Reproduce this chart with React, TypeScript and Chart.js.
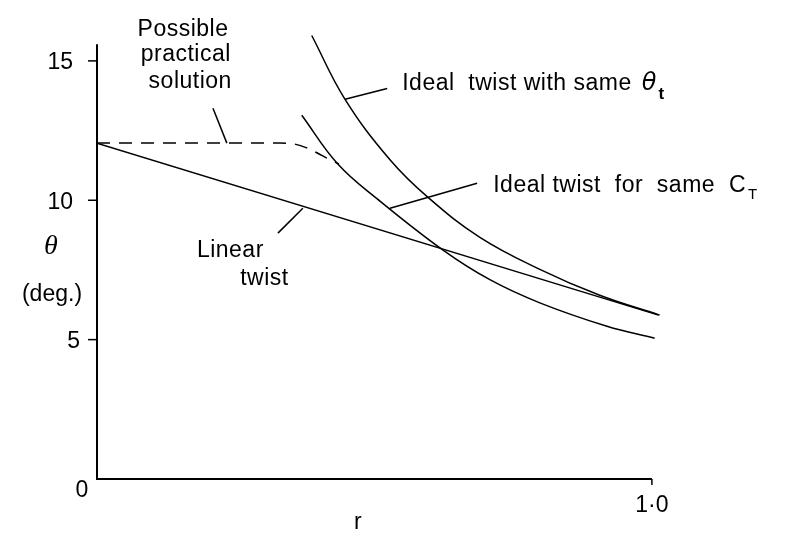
import React, { useEffect, useRef } from "react";
import { Chart, registerables } from "chart.js";

Chart.register(...registerables);

// ---- data (r, theta in degrees) ----
const rLinear = [0, 1.012];
const thetaLinear = [12.05, 5.88];

const rIdealSameTip = [0.387, 0.447, 0.528, 0.596, 0.69, 0.798, 0.906, 1.014];
const thetaIdealSameTip = [15.91, 13.62, 11.45, 10.11, 8.67, 7.52, 6.59, 5.88];

const rIdealSameCT = [0.369, 0.434, 0.505, 0.623, 0.708, 0.798, 0.919, 1.005];
const thetaIdealSameCT = [13.05, 11.3, 10.05, 8.22, 7.15, 6.32, 5.48, 5.05];

const rPractical = [0, 0.33, 0.355, 0.378, 0.405, 0.42, 0.436];
const thetaPractical = [12.05, 12.05, 12.02, 11.88, 11.61, 11.45, 11.3];

const yTickValues = [5, 10, 15];
const yTickLabels = ["5", "10", "15"];
const xTickValues = [1.0];
const xTickLabels = ["1·0"];
const yZeroLabel = "0";
const xTitle = "r";
const yTitle = "θ";
const yUnit = "(deg.)";

// leader lines: [r1, th1, r2, th2]
const leaderPractical = [0.209, 13.3, 0.234, 12.05];
const leaderSameTip = [0.447, 13.62, 0.523, 14.01];
const leaderSameCT = [0.528, 9.71, 0.685, 10.61];
const leaderLinear = [0.371, 9.71, 0.326, 8.82];

const FONT = '"Liberation Sans", Arial, sans-serif';

export default function App() {
  const ref = useRef<HTMLCanvasElement>(null);

  useEffect(() => {
    const toPts = (xs: number[], ys: number[]) => xs.map((x, i) => ({ x, y: ys[i] }));

    const annot = {
      id: "annot",
      afterDraw(chart: any) {
        const ctx = chart.ctx as CanvasRenderingContext2D;
        const xs = chart.scales.x;
        const ys = chart.scales.y;
        const X = (v: number) => xs.getPixelForValue(v);
        const Y = (v: number) => ys.getPixelForValue(v);
        ctx.save();
        ctx.strokeStyle = "#000";
        ctx.fillStyle = "#000";
        ctx.lineCap = "butt";

        // axes
        ctx.lineWidth = 2;
        ctx.beginPath();
        ctx.moveTo(X(0), Y(15.6));
        ctx.lineTo(X(0), Y(0));
        ctx.lineTo(X(1.0), Y(0));
        ctx.stroke();

        // y ticks
        ctx.lineWidth = 1.5;
        ctx.font = `23px ${FONT}`;
        ctx.textAlign = "right";
        ctx.textBaseline = "middle";
        yTickValues.forEach((v, i) => {
          ctx.beginPath();
          ctx.moveTo(X(0) - 9, Y(v));
          ctx.lineTo(X(0), Y(v));
          ctx.stroke();
          ctx.fillText(yTickLabels[i], X(0) - 24 + (yTickLabels[i].length === 1 ? 7 : 0), Y(v) + 2);
        });
        ctx.textAlign = "center";
        ctx.fillText(yZeroLabel, X(0) - 15, Y(0) + 12);

        // x ticks
        xTickValues.forEach((v, i) => {
          ctx.beginPath();
          ctx.moveTo(X(v), Y(0));
          ctx.lineTo(X(v), Y(0) + 6);
          ctx.stroke();
          ctx.fillText(xTickLabels[i], X(v), Y(0) + 27);
        });
        ctx.fillText(xTitle, X(0.47), Y(0) + 44);

        // y title
        ctx.font = `italic 28px "Liberation Serif", serif`;
        ctx.fillText(yTitle, 51, Y(8.35));
        ctx.font = `23px ${FONT}`;
        ctx.fillText(yUnit, 52, Y(6.6));

        // leader lines
        ctx.lineWidth = 1.5;
        [leaderPractical, leaderSameTip, leaderSameCT, leaderLinear].forEach((l) => {
          ctx.beginPath();
          ctx.moveTo(X(l[0]), Y(l[1]));
          ctx.lineTo(X(l[2]), Y(l[3]));
          ctx.stroke();
        });

        // labels
        ctx.font = `23px ${FONT}`;
        (ctx as any).letterSpacing = "0.5px";
        ctx.textBaseline = "alphabetic";
        ctx.textAlign = "center";
        ctx.fillText("Possible", X(0.155), Y(15.91));
        ctx.fillText("practical", X(0.16), Y(14.98));
        ctx.fillText("solution", X(0.168), Y(14.01));

        ctx.textAlign = "left";
        ctx.fillText("Linear", X(0.18), Y(7.96));
        ctx.fillText("twist", X(0.258), Y(6.95));

        // Ideal twist with same theta_t
        const s1 = "Ideal  twist with same";
        ctx.fillText(s1, X(0.55), Y(13.94));
        let px = X(0.55) + ctx.measureText(s1).width + 10;
        ctx.font = `italic 24px "DejaVu Sans", sans-serif`;
        (ctx as any).letterSpacing = "0px";
        ctx.fillText("θ", px, Y(13.94));
        px += ctx.measureText("θ").width + 2;
        ctx.font = `bold 17px ${FONT}`;
        ctx.fillText("t", px, Y(13.94) + 9);

        // Ideal twist for same C_T
        ctx.font = `23px ${FONT}`;
        (ctx as any).letterSpacing = "0.5px";
        const s2 = "Ideal twist  for  same  C";
        ctx.fillText(s2, X(0.714), Y(10.29));
        px = X(0.714) + ctx.measureText(s2).width + 2;
        (ctx as any).letterSpacing = "0px";
        ctx.font = `15px ${FONT}`;
        ctx.fillText("T", px, Y(10.29) + 7);

        ctx.restore();
      },
    };

    const lineStyle = {
      showLine: true,
      pointRadius: 0,
      borderColor: "#000",
      borderWidth: 1.5,
      fill: false,
      tension: 0.4,
    };

    const chart = new Chart(ref.current as HTMLCanvasElement, {
      type: "scatter",
      data: {
        datasets: [
          { ...lineStyle, tension: 0, label: "Linear twist", data: toPts(rLinear, thetaLinear) },
          { ...lineStyle, label: "Ideal twist with same θt", data: toPts(rIdealSameTip, thetaIdealSameTip) },
          { ...lineStyle, label: "Ideal twist for same CT", data: toPts(rIdealSameCT, thetaIdealSameCT) },
          {
            ...lineStyle,
            cubicInterpolationMode: "monotone" as const,
            label: "Possible practical solution",
            data: toPts(rPractical, thetaPractical),
            borderDash: [13, 9],
          },
        ],
      },
      options: {
        animation: false,
        responsive: true,
        maintainAspectRatio: false,
        layout: { padding: { left: 97, right: 126, top: 33, bottom: 62 } },
        plugins: { legend: { display: false }, tooltip: { enabled: false } },
        scales: {
          x: { type: "linear", min: 0, max: 1.02, display: false },
          y: { type: "linear", min: 0, max: 16, display: false },
        },
      },
      plugins: [annot],
    });
    return () => chart.destroy();
  }, []);

  return (
    <div style={{ position: "absolute", left: 0, top: 0, width: 789, height: 541, background: "#fff" }}>
      <canvas ref={ref} />
    </div>
  );
}
